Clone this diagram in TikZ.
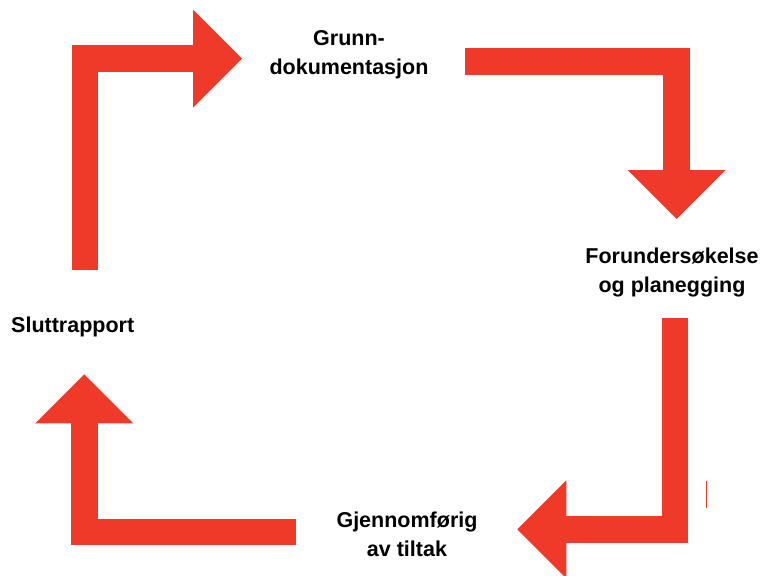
\documentclass[tikz,border=0pt]{standalone}
\usepackage{fontspec}
\setmainfont{Liberation Sans}
\usetikzlibrary{arrows.meta}
\definecolor{cyclered}{RGB}{239,58,42}
\tikzstyle{stage} = [font=\bfseries\fontsize{21.5}{29}\selectfont, align=center, inner sep=0pt, text=black]
\tikzstyle{bigarrow} = [draw=cyclered, line width=26.6pt, line join=miter, -{Triangle[width=98pt, length=49pt, line width=0pt]}]

\begin{document}
\begin{tikzpicture}[x=1pt, y=-1pt]
	\useasboundingbox (0,0) rectangle (761,576);
	\node (grunn) [stage] at (349,55) {Grunn-\\dokumentasjon};
	\node (forund) [stage] at (672,272) {Forundersøkelse\\og planegging};
	\node (gjenn) [stage] at (407,534) {Gjennomførig\\av tiltak};
	\node (slutt) [stage, anchor=base west] at (11,332.7) {Sluttrapport};

	\coordinate (s1) at (85,270);		% above Sluttrapport
	\coordinate (t1) at (242,58.5);
	\coordinate (s2) at (465,61.3);
	\coordinate (t2) at (676.7,219);
	\coordinate (s3) at (675,318.3);
	\coordinate (t3) at (517.3,529.3);
	\coordinate (s4) at (296,532);
	\coordinate (t4) at (84.3,374.3);

	\draw [bigarrow] (s1) |- (t1);
	\draw [bigarrow] (s2) -| (t2);
	\draw [bigarrow] (s3) |- (t3);
	\draw [bigarrow] (s4) -| (t4);
	\draw [cyclered, line width=1pt] (706.7,481) -- (706.7,507.7);
\end{tikzpicture}
\end{document}
